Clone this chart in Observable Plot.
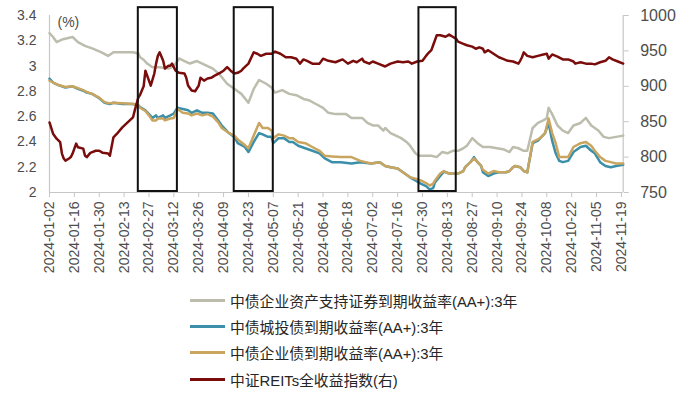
<!DOCTYPE html>
<html><head><meta charset="utf-8">
<script src="https://cdn.jsdelivr.net/npm/d3@7"></script>
<script src="https://cdn.jsdelivr.net/npm/@observablehq/plot@0.6"></script>
<style>
body{margin:0;background:#fff;font-family:"Liberation Sans","Noto Sans CJK SC",sans-serif;}
#chart svg{display:block}
#legend{padding-left:190px;padding-top:7px}
.row{display:flex;align-items:center;height:26.3px;font-size:14.8px;color:#262626;white-space:nowrap}
.sw{width:35px;height:3px;margin-right:5px;flex:none}
</style></head><body><div id="chart"></div><div id="legend"></div>
<script>
const YEAR = "2024-";
// x-axis tick labels (every two weeks)
const tickLabels = ["01-02","01-16","01-30","02-13","02-27","03-12","03-26","04-09","04-23","05-07","05-21","06-04","06-18","07-02","07-16","07-30","08-13","08-27","09-10","09-24","10-08","10-22","11-05","11-19"];
const xStart = "01-02", xEnd = "11-20";

// 中债企业资产支持证券到期收益率(AA+):3年
const absDates = ["01-02","01-04","01-06","01-09","01-12","01-15","01-18","01-22","01-26","01-31","02-04","02-07","02-18","02-21","02-22","02-24","02-26","02-29","03-04","03-09","03-12","03-15","03-18","03-21","03-25","03-28","03-31","04-03","04-07","04-11","04-15","04-19","04-23","04-26","04-29","05-03","05-06","05-08","05-12","05-16","05-20","05-24","05-27","05-31","06-04","06-07","06-11","06-17","06-20","06-26","06-29","07-02","07-05","07-08","07-09","07-12","07-15","07-18","07-21","07-23","07-26","07-28","08-04","08-07","08-10","08-13","08-16","08-19","08-22","08-24","08-27","08-30","09-02","09-06","09-10","09-14","09-17","09-19","09-22","09-25","09-27","09-30","10-03","10-06","10-08","10-09","10-11","10-14","10-17","10-20","10-23","10-27","10-30","11-02","11-06","11-09","11-12","11-16","11-20"];
const absVals = [3.26,3.23,3.19,3.21,3.22,3.23,3.19,3.16,3.14,3.11,3.08,3.11,3.11,3.10,3.07,3.05,3.02,2.99,2.99,2.98,3.00,3.06,3.04,3.02,3.04,3.02,3.00,2.98,2.93,2.86,2.82,2.78,2.71,2.82,2.89,2.86,2.83,2.79,2.81,2.78,2.77,2.74,2.73,2.70,2.67,2.63,2.62,2.62,2.59,2.59,2.55,2.53,2.53,2.49,2.51,2.47,2.45,2.43,2.40,2.37,2.31,2.29,2.29,2.28,2.32,2.31,2.33,2.33,2.35,2.37,2.43,2.39,2.36,2.36,2.35,2.34,2.32,2.36,2.35,2.33,2.33,2.51,2.55,2.57,2.59,2.67,2.62,2.53,2.49,2.47,2.53,2.55,2.59,2.53,2.49,2.44,2.43,2.44,2.45];

// 中债城投债 / 中债企业债 到期收益率(AA+):3年
const bondDates = ["01-02","01-04","01-07","01-11","01-15","01-18","01-21","01-23","01-26","01-30","02-02","02-05","02-07","02-12","02-18","02-21","02-22","02-25","02-27","02-29","03-02","03-03","03-06","03-07","03-10","03-12","03-14","03-17","03-20","03-22","03-25","03-28","03-31","04-03","04-06","04-08","04-12","04-15","04-17","04-21","04-23","04-26","04-29","05-01","05-04","05-06","05-07","05-10","05-13","05-16","05-18","05-21","05-25","05-29","06-02","06-05","06-09","06-14","06-20","06-25","07-01","07-06","07-09","07-12","07-16","07-19","07-23","07-26","07-29","08-01","08-03","08-05","08-06","08-09","08-11","08-14","08-17","08-19","08-22","08-23","08-26","08-28","08-30","09-01","09-02","09-05","09-08","09-11","09-15","09-17","09-19","09-20","09-23","09-25","09-27","09-30","10-03","10-05","10-07","10-09","10-11","10-13","10-15","10-17","10-20","10-23","10-27","10-30","11-02","11-04","11-07","11-10","11-13","11-16","11-20"];
const chengtouVals = [2.90,2.87,2.85,2.83,2.84,2.82,2.805,2.79,2.78,2.745,2.71,2.70,2.71,2.70,2.70,2.69,2.675,2.65,2.62,2.59,2.61,2.59,2.61,2.59,2.61,2.625,2.67,2.66,2.65,2.63,2.65,2.63,2.63,2.625,2.57,2.53,2.47,2.44,2.39,2.36,2.32,2.40,2.47,2.46,2.44,2.44,2.39,2.43,2.43,2.40,2.40,2.37,2.35,2.33,2.31,2.27,2.24,2.24,2.23,2.24,2.23,2.24,2.21,2.20,2.19,2.16,2.12,2.095,2.07,2.05,2.025,2.035,2.08,2.13,2.165,2.15,2.15,2.15,2.17,2.20,2.24,2.28,2.24,2.21,2.16,2.13,2.15,2.16,2.16,2.17,2.20,2.21,2.20,2.17,2.16,2.39,2.41,2.44,2.47,2.55,2.41,2.31,2.25,2.24,2.25,2.32,2.36,2.37,2.33,2.31,2.24,2.21,2.20,2.21,2.22];
const corpVals = [2.885,2.87,2.85,2.835,2.84,2.825,2.81,2.795,2.78,2.75,2.715,2.705,2.71,2.705,2.70,2.69,2.67,2.645,2.61,2.57,2.57,2.585,2.585,2.57,2.585,2.59,2.66,2.63,2.625,2.61,2.625,2.61,2.62,2.60,2.555,2.51,2.47,2.45,2.42,2.375,2.35,2.45,2.55,2.51,2.51,2.49,2.43,2.46,2.45,2.43,2.43,2.40,2.39,2.36,2.33,2.29,2.285,2.28,2.28,2.25,2.23,2.24,2.21,2.20,2.19,2.16,2.12,2.11,2.095,2.075,2.055,2.07,2.095,2.15,2.17,2.15,2.15,2.15,2.17,2.20,2.24,2.27,2.24,2.21,2.18,2.15,2.17,2.16,2.16,2.17,2.20,2.21,2.20,2.17,2.16,2.40,2.42,2.44,2.47,2.585,2.47,2.39,2.28,2.28,2.28,2.36,2.39,2.40,2.37,2.33,2.28,2.25,2.24,2.23,2.23];

// 中证REITs全收益指数(右)
const reitDates = ["01-02","01-04","01-06","01-08","01-09","01-10","01-11","01-13","01-14","01-15","01-17","01-18","01-21","01-22","01-23","01-25","01-28","01-30","02-01","02-04","02-05","02-07","02-09","02-12","02-15","02-18","02-19","02-21","02-22","02-24","02-25","02-27","02-28","03-01","03-02","03-03","03-04","03-06","03-07","03-09","03-10","03-11","03-12","03-13","03-15","03-18","03-19","03-20","03-22","03-24","03-26","03-27","03-29","03-31","04-02","04-04","04-07","04-09","04-11","04-13","04-15","04-17","04-19","04-20","04-23","04-26","04-28","04-30","05-03","05-06","05-08","05-11","05-14","05-17","05-20","05-22","05-24","05-26","05-29","06-02","06-04","06-07","06-11","06-12","06-15","06-18","06-21","06-23","06-26","06-27","06-30","07-02","07-05","07-09","07-12","07-16","07-19","07-22","07-24","07-27","07-30","08-01","08-02","08-04","08-05","08-07","08-09","08-12","08-14","08-16","08-18","08-19","08-22","08-24","08-27","08-29","08-31","09-02","09-03","09-05","09-08","09-11","09-13","09-16","09-19","09-22","09-23","09-24","09-25","09-27","09-30","10-03","10-06","10-08","10-09","10-11","10-14","10-17","10-20","10-23","10-24","10-27","10-30","11-02","11-04","11-07","11-10","11-12","11-14","11-17","11-20"];
const reitVals = [849,833,826,821,805,798,795,798,800,805,819,814,812,802,800,806,809,809,806,805,802,828,833,842,849,856,866,884,888,900,922,908,901,918,932,943,948,936,925,929,929,932,927,922,919,918,912,901,894,893,901,912,908,911,912,915,919,922,927,922,918,919,922,925,932,948,946,943,946,946,949,946,941,941,939,932,938,936,932,932,939,936,934,935,938,932,936,934,939,935,932,935,932,928,932,935,934,935,932,935,936,943,946,951,958,972,972,970,973,970,967,963,960,958,956,953,955,953,948,951,946,941,939,936,935,932,936,941,948,943,941,943,945,946,939,945,942,938,938,935,932,934,932,932,931,934,936,941,938,935,932];

// highlighted periods (boxes)
const boxStarts = ["02-21","04-15","07-28"];
const boxEnds = ["03-14","05-07","08-18"];

const leftTicks = [2,2.2,2.4,2.6,2.8,3,3.2,3.4];
const rightTicks = [750,800,850,900,950,1000];

const seriesNames = ["中债企业资产支持证券到期收益率(AA+):3年","中债城投债到期收益率(AA+):3年","中债企业债到期收益率(AA+):3年","中证REITs全收益指数(右)"];
const seriesColors = ["#bdbdae","#3b8fa9","#c9a55f","#7a0c0c"];

const parse = d3.utcParse("%Y-%m-%d");
const P = s => parse(YEAR + s);
const L0 = 2, L1 = 3.4, R0 = 750, R1 = 1000;
const toLeft = r => L0 + (r - R0) / (R1 - R0) * (L1 - L0);
const toRight = v => String(Math.round(R0 + (v - L0) / (L1 - L0) * (R1 - R0)));

const absData = absDates.map((d, i) => ({date: P(d), v: absVals[i]}));
const ctData = bondDates.map((d, i) => ({date: P(d), v: chengtouVals[i]}));
const corpData = bondDates.map((d, i) => ({date: P(d), v: corpVals[i]}));
const reitData = reitDates.map((d, i) => ({date: P(d), v: toLeft(reitVals[i])}));
const boxes = boxStarts.map((s, i) => ({x1: P(s), x2: P(boxEnds[i]), y1: 2.008, y2: 3.462}));

const axisGray = "#c6c6c6";
const textGray = "#4d4d4d";

const chart = Plot.plot({
  width: 700,
  height: 280,
  marginLeft: 49,
  marginRight: 77.3,
  marginTop: 15,
  marginBottom: 88,
  style: {fontFamily: '"Liberation Sans","Noto Sans CJK SC",sans-serif', background: "#fff"},
  x: {type: "utc", domain: [P(xStart), P(xEnd)]},
  y: {domain: [L0, L1]},
  marks: [
    Plot.ruleX([P(xStart)], {stroke: axisGray, strokeWidth: 1.2}),
    Plot.ruleX([P(xEnd)], {stroke: axisGray, strokeWidth: 1.2}),
    Plot.ruleY([L0], {stroke: axisGray, strokeWidth: 1.2}),
    Plot.axisX({ticks: tickLabels.map(P), tickFormat: d3.utcFormat("%Y-%m-%d"), tickRotate: -90, tickSize: 5, tickPadding: 4, fontSize: 14, stroke: axisGray, fill: textGray, label: null}),
    Plot.axisY({ticks: leftTicks, tickFormat: d => String(Math.round(d * 10) / 10), tickSize: 0, tickPadding: 13, fontSize: 14, fill: textGray, label: null}),
    Plot.axisY({anchor: "right", ticks: rightTicks.map(toLeft), tickFormat: toRight, tickSize: 5, tickPadding: 12, fontSize: 16, stroke: axisGray, fill: textGray, label: null}),
    Plot.lineY(absData, {x: "date", y: "v", stroke: seriesColors[0], strokeWidth: 2.5}),
    Plot.lineY(ctData, {x: "date", y: "v", stroke: seriesColors[1], strokeWidth: 2.5}),
    Plot.lineY(corpData, {x: "date", y: "v", stroke: seriesColors[2], strokeWidth: 2.5}),
    Plot.lineY(reitData, {x: "date", y: "v", stroke: seriesColors[3], strokeWidth: 2.5}),
    Plot.rect(boxes, {x1: "x1", x2: "x2", y1: "y1", y2: "y2", fill: "none", stroke: "#111", strokeWidth: 2}),
    Plot.text(["(%)"], {frameAnchor: "top-left", dx: 8, dy: 2, textAnchor: "start", fontSize: 14, fill: textGray})
  ]
});
document.getElementById("chart").appendChild(chart);

const legend = document.getElementById("legend");
seriesNames.forEach((name, i) => {
  const row = document.createElement("div");
  row.className = "row";
  const sw = document.createElement("span");
  sw.className = "sw";
  sw.style.background = seriesColors[i];
  const t = document.createElement("span");
  t.textContent = name;
  row.appendChild(sw);
  row.appendChild(t);
  legend.appendChild(row);
});
</script>
</body></html>
